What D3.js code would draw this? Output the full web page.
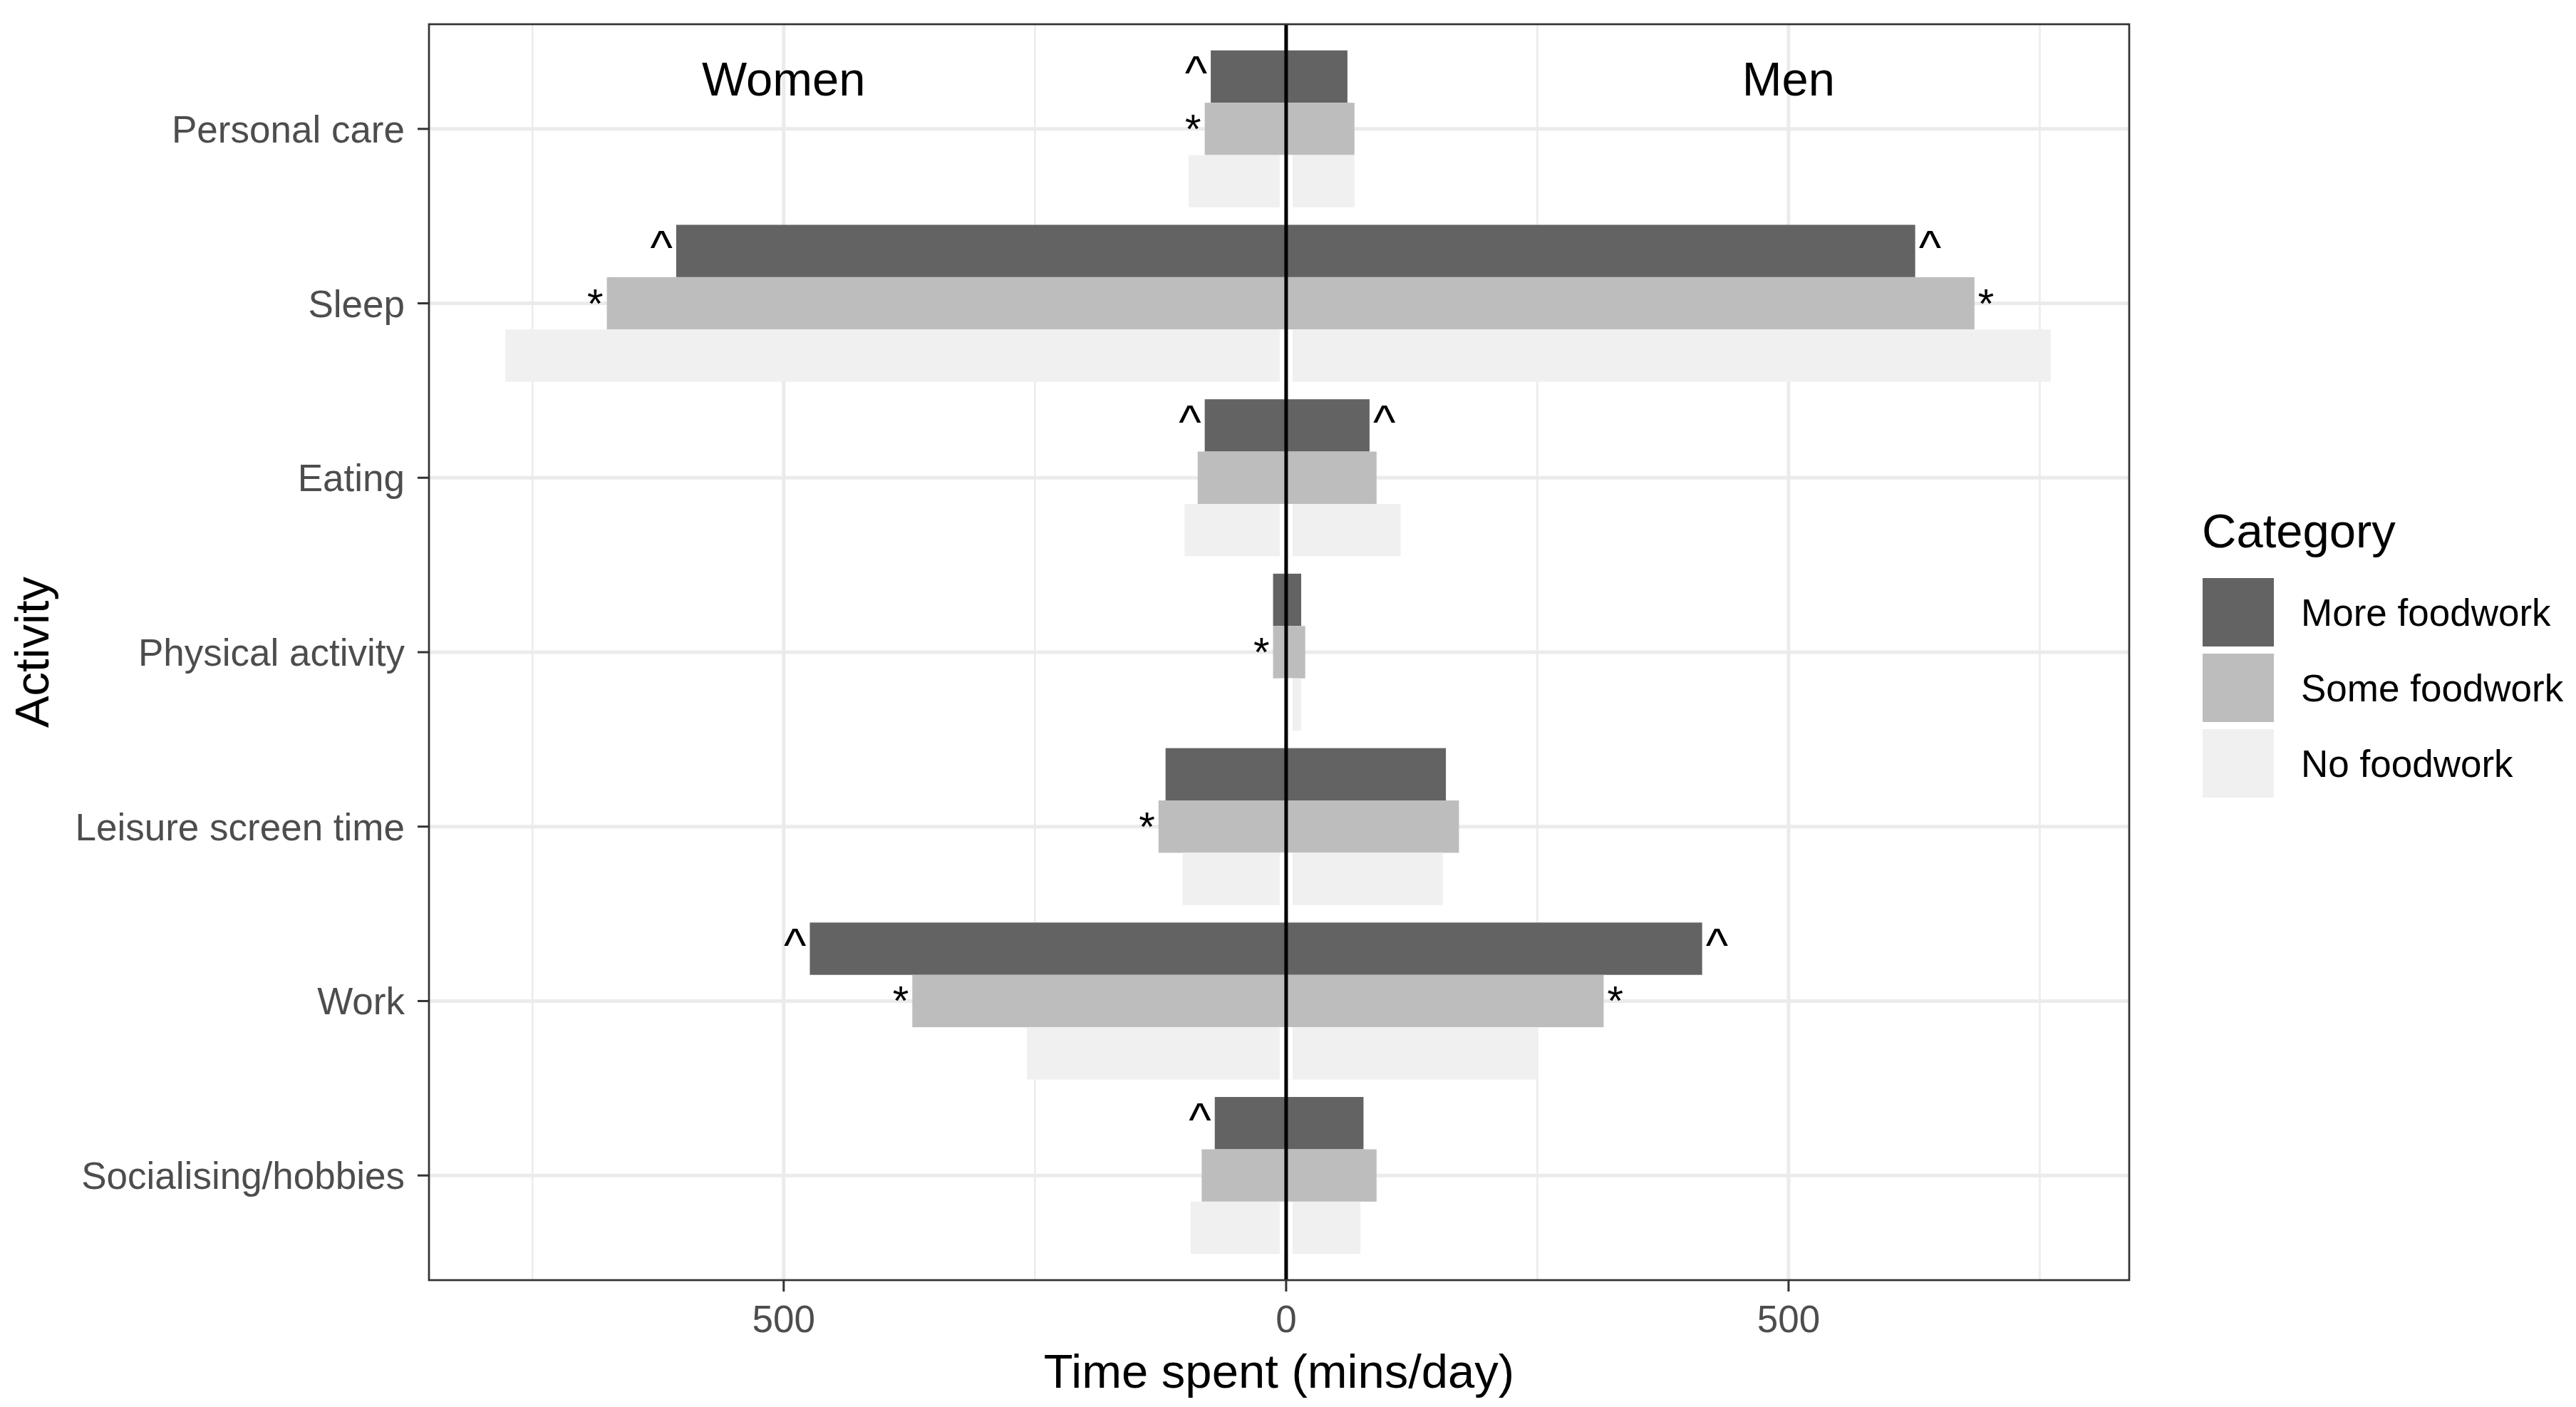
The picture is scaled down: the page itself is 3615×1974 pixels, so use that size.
<!DOCTYPE html>
<html lang="en">
<head>
  <meta charset="UTF-8">
  <script src="https://d3js.org/d3.v7.min.js"></script>
  <title>Time spent by foodwork category</title>
  <style>
    body { margin: 0; background: #fff; }
    text { font-family: 'Liberation Sans', Arial, sans-serif; }
    .tick-label { fill: #4d4d4d; font-size: 53px; }
    .title { fill: #000; font-size: 67px; }
    .legend-label { fill: #000; font-size: 53px; }
    .mark { fill: #000; font-size: 67px; }
    .mark.star { font-size: 58px; }
  </style>
</head>
<body>
<div id="chart"></div>
<script>
  // data (mins/day)
  let activities = ['Personal care', 'Sleep', 'Eating', 'Physical activity',
    'Leisure screen time', 'Work', 'Socialising/hobbies'];
  let categories = ['More foodwork', 'Some foodwork', 'No foodwork'];

  let womenMore = [75, 607, 81, 13, 120, 474, 71];
  let womenSome = [81, 676, 88, 13, 127, 372, 84];
  let womenNone = [97, 777, 101, 3, 103, 258, 95];

  let menMore = [61, 626, 83, 15, 159, 414, 77];
  let menSome = [68, 685, 90, 19, 172, 316, 90];
  let menNone = [68, 761, 114, 15, 156, 250, 74];

  // significance markers shown beside the bars
  let womenMoreMark = ['^', '^', '^', '', '', '^', '^'];
  let womenSomeMark = ['*', '*', '', '*', '*', '*', ''];
  let menMoreMark = ['', '^', '^', '', '', '^', ''];
  let menSomeMark = ['', '*', '', '', '', '*', ''];

  let xTicks = [-500, 0, 500];
  let xMinor = [-750, -250, 250, 750];
  let colors = ['#636363', '#bdbdbd', '#f0f0f0'];

  // layout
  let width = 3615, height = 1974;
  let panel = {left: 602, right: 2988, top: 34, bottom: 1796};

  let svg = d3.select('#chart').append('svg')
          .attr('width', width)
          .attr('height', height);

  svg.append('rect').attr('width', width).attr('height', height).attr('fill', '#fff');

  let x = d3.scaleLinear().domain([-853, 839]).range([panel.left, panel.right]);
  let y = d3.scaleBand().domain(activities).range([panel.top, panel.bottom])
          .paddingInner(0.1).paddingOuter(0.15);
  let ySub = d3.scaleBand().domain(categories).range([0, y.bandwidth()]);
  let colorScale = d3.scaleOrdinal().domain(categories).range(colors);

  // build rows for the bars
  let series = {
    'More foodwork': {women: womenMore, men: menMore},
    'Some foodwork': {women: womenSome, men: menSome},
    'No foodwork': {women: womenNone, men: menNone}
  };
  let bars = [];
  categories.forEach(c => {
    activities.forEach((a, i) => {
      bars.push({activity: a, cat: c, value: -series[c].women[i]});
      bars.push({activity: a, cat: c, value: series[c].men[i]});
    });
  });

  let marks = [];
  activities.forEach((a, i) => {
    if (womenMoreMark[i]) marks.push({activity: a, cat: 'More foodwork', value: -womenMore[i], t: womenMoreMark[i]});
    if (womenSomeMark[i]) marks.push({activity: a, cat: 'Some foodwork', value: -womenSome[i], t: womenSomeMark[i]});
    if (menMoreMark[i]) marks.push({activity: a, cat: 'More foodwork', value: menMore[i], t: menMoreMark[i]});
    if (menSomeMark[i]) marks.push({activity: a, cat: 'Some foodwork', value: menSome[i], t: menSomeMark[i]});
  });

  // grid
  let grid = svg.append('g');
  grid.selectAll('.minor').data(xMinor).join('line')
          .attr('x1', d => x(d)).attr('x2', d => x(d))
          .attr('y1', panel.top).attr('y2', panel.bottom)
          .attr('stroke', '#ebebeb').attr('stroke-width', 2.5);
  grid.selectAll('.majorx').data(xTicks).join('line')
          .attr('x1', d => x(d)).attr('x2', d => x(d))
          .attr('y1', panel.top).attr('y2', panel.bottom)
          .attr('stroke', '#ebebeb').attr('stroke-width', 5);
  grid.selectAll('.majory').data(activities).join('line')
          .attr('x1', panel.left).attr('x2', panel.right)
          .attr('y1', d => y(d) + y.bandwidth() / 2).attr('y2', d => y(d) + y.bandwidth() / 2)
          .attr('stroke', '#ebebeb').attr('stroke-width', 5);

  // bars
  svg.append('g').selectAll('rect').data(bars).join('rect')
          .attr('x', d => Math.min(x(0), x(d.value)))
          .attr('width', d => Math.abs(x(d.value) - x(0)))
          .attr('y', d => y(d.activity) + ySub(d.cat))
          .attr('height', ySub.bandwidth())
          .attr('fill', d => colorScale(d.cat));

  // small white gap between the light bars and the zero line
  svg.append('g').selectAll('rect').data(activities).join('rect')
          .attr('x', x(0) - 9).attr('width', 18)
          .attr('y', d => y(d) + ySub('No foodwork'))
          .attr('height', ySub.bandwidth())
          .attr('fill', '#fff');

  // zero line
  svg.append('line')
          .attr('x1', x(0)).attr('x2', x(0))
          .attr('y1', panel.top).attr('y2', panel.bottom)
          .attr('stroke', '#000').attr('stroke-width', 5);

  // markers
  svg.append('g').selectAll('text').data(marks).join('text')
          .attr('class', d => d.t === '*' ? 'mark star' : 'mark')
          .attr('x', d => d.value < 0 ? x(d.value) - 5 : x(d.value) + 5)
          .attr('y', d => y(d.activity) + ySub(d.cat) + ySub.bandwidth() / 2 + (d.t === '^' ? 18 : 20))
          .attr('text-anchor', d => d.value < 0 ? 'end' : 'start')
          .text(d => d.t);

  // Women / Men labels
  svg.append('text').attr('class', 'title').attr('x', x(-500)).attr('y', 134)
          .attr('text-anchor', 'middle').text('Women');
  svg.append('text').attr('class', 'title').attr('x', x(500)).attr('y', 134)
          .attr('text-anchor', 'middle').text('Men');

  // panel border
  svg.append('rect')
          .attr('x', panel.left).attr('y', panel.top)
          .attr('width', panel.right - panel.left).attr('height', panel.bottom - panel.top)
          .attr('fill', 'none').attr('stroke', '#333').attr('stroke-width', 2.7);

  // x axis
  let xAxis = svg.append('g');
  xAxis.selectAll('line').data(xTicks).join('line')
          .attr('x1', d => x(d)).attr('x2', d => x(d))
          .attr('y1', panel.bottom).attr('y2', panel.bottom + 16)
          .attr('stroke', '#333').attr('stroke-width', 3);
  xAxis.selectAll('text').data(xTicks).join('text')
          .attr('class', 'tick-label')
          .attr('x', d => x(d)).attr('y', 1869)
          .attr('text-anchor', 'middle')
          .text(d => Math.abs(d));

  // y axis
  let yAxis = svg.append('g');
  yAxis.selectAll('line').data(activities).join('line')
          .attr('x1', panel.left - 16).attr('x2', panel.left)
          .attr('y1', d => y(d) + y.bandwidth() / 2).attr('y2', d => y(d) + y.bandwidth() / 2)
          .attr('stroke', '#333').attr('stroke-width', 3);
  yAxis.selectAll('text').data(activities).join('text')
          .attr('class', 'tick-label')
          .attr('x', 568)
          .attr('y', d => y(d) + y.bandwidth() / 2 + 19)
          .attr('text-anchor', 'end')
          .text(d => d);

  // axis titles
  svg.append('text').attr('class', 'title')
          .attr('x', (panel.left + panel.right) / 2).attr('y', 1947)
          .attr('text-anchor', 'middle').text('Time spent (mins/day)');
  svg.append('text').attr('class', 'title')
          .attr('transform', 'translate(68,' + (panel.top + panel.bottom) / 2 + ') rotate(-90)')
          .attr('text-anchor', 'middle').text('Activity');

  // legend
  let legend = svg.append('g');
  legend.append('text').attr('class', 'title').attr('x', 3090).attr('y', 768).text('Category');
  legend.selectAll('rect').data(categories).join('rect')
          .attr('x', 3091).attr('y', (d, i) => 811 + i * 106)
          .attr('width', 100).attr('height', 96)
          .attr('fill', d => colorScale(d));
  legend.selectAll('.legend-label').data(categories).join('text')
          .attr('class', 'legend-label')
          .attr('x', 3229).attr('y', (d, i) => 878 + i * 106)
          .text(d => d);
</script>
</body>
</html>
